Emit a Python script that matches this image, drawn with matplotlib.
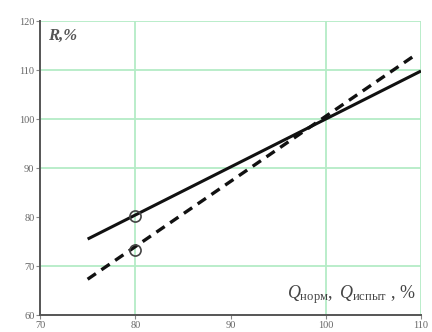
import matplotlib
matplotlib.use("Agg")
import matplotlib.pyplot as plt

# R vs Q: two straight fits and the two measured points at Q = 80 %
q_fit = [75, 110]
r_solid = [75.5, 109.8]
q_dash = [75, 109.5]
r_dash = [67.3, 113.2]
q_pts = [80, 80]
r_pts = [80.2, 73.3]

x_ticks = [70, 80, 90, 100, 110]
y_ticks = [60, 70, 80, 90, 100, 110, 120]
x_grid = [80, 100, 110]
y_grid = [70, 90, 100, 110, 120]

plt.rcParams["mathtext.fontset"] = "custom"
plt.rcParams["mathtext.rm"] = "Liberation Serif"
plt.rcParams["mathtext.it"] = "Liberation Serif:italic"

fig = plt.figure(figsize=(4.32, 3.32), dpi=100)
ax = fig.add_axes([0.0926, 0.0512, 0.882, 0.8855])

grid_c = "#b4ecc6"
for x in x_grid:
    ax.axvline(x, color=grid_c, lw=1.3, zorder=0)
for y in y_grid:
    ax.axhline(y, color=grid_c, lw=1.3, zorder=0)

ax.plot(q_fit, r_solid, "-", color="#111111", lw=2.2, solid_capstyle="butt")
ax.plot(q_dash, r_dash, "--", color="#111111", lw=2.4, dashes=(3, 2))
ax.plot(q_pts, r_pts, "o", ms=8, mfc="none", mec="#444444", mew=1.2)

ax.set_xlim(70, 110)
ax.set_ylim(60, 120)
ax.set_xticks(x_ticks)
ax.set_yticks(y_ticks)
for s in ("top", "right"):
    ax.spines[s].set_visible(False)
for s in ("left", "bottom"):
    ax.spines[s].set_color("#555555")
    ax.spines[s].set_linewidth(1.4)
ax.tick_params(colors="#888888", labelcolor="#666666", length=3, width=0.8,
               labelsize=7.5, pad=1)
for lab in ax.get_xticklabels() + ax.get_yticklabels():
    lab.set_family("Liberation Serif")

ax.text(0.022, 0.975, "R,%", transform=ax.transAxes, ha="left", va="top",
        fontsize=12, family="Liberation Serif", style="italic",
        weight="bold", color="#555555")
ax.text(0.985, 0.03, r"$Q_{\mathrm{норм}},\ Q_{\mathrm{испыт}}$ , %",
        transform=ax.transAxes, ha="right", va="bottom",
        fontsize=13, family="Liberation Serif", color="#444444")

fig.savefig("out.png", dpi=100)
